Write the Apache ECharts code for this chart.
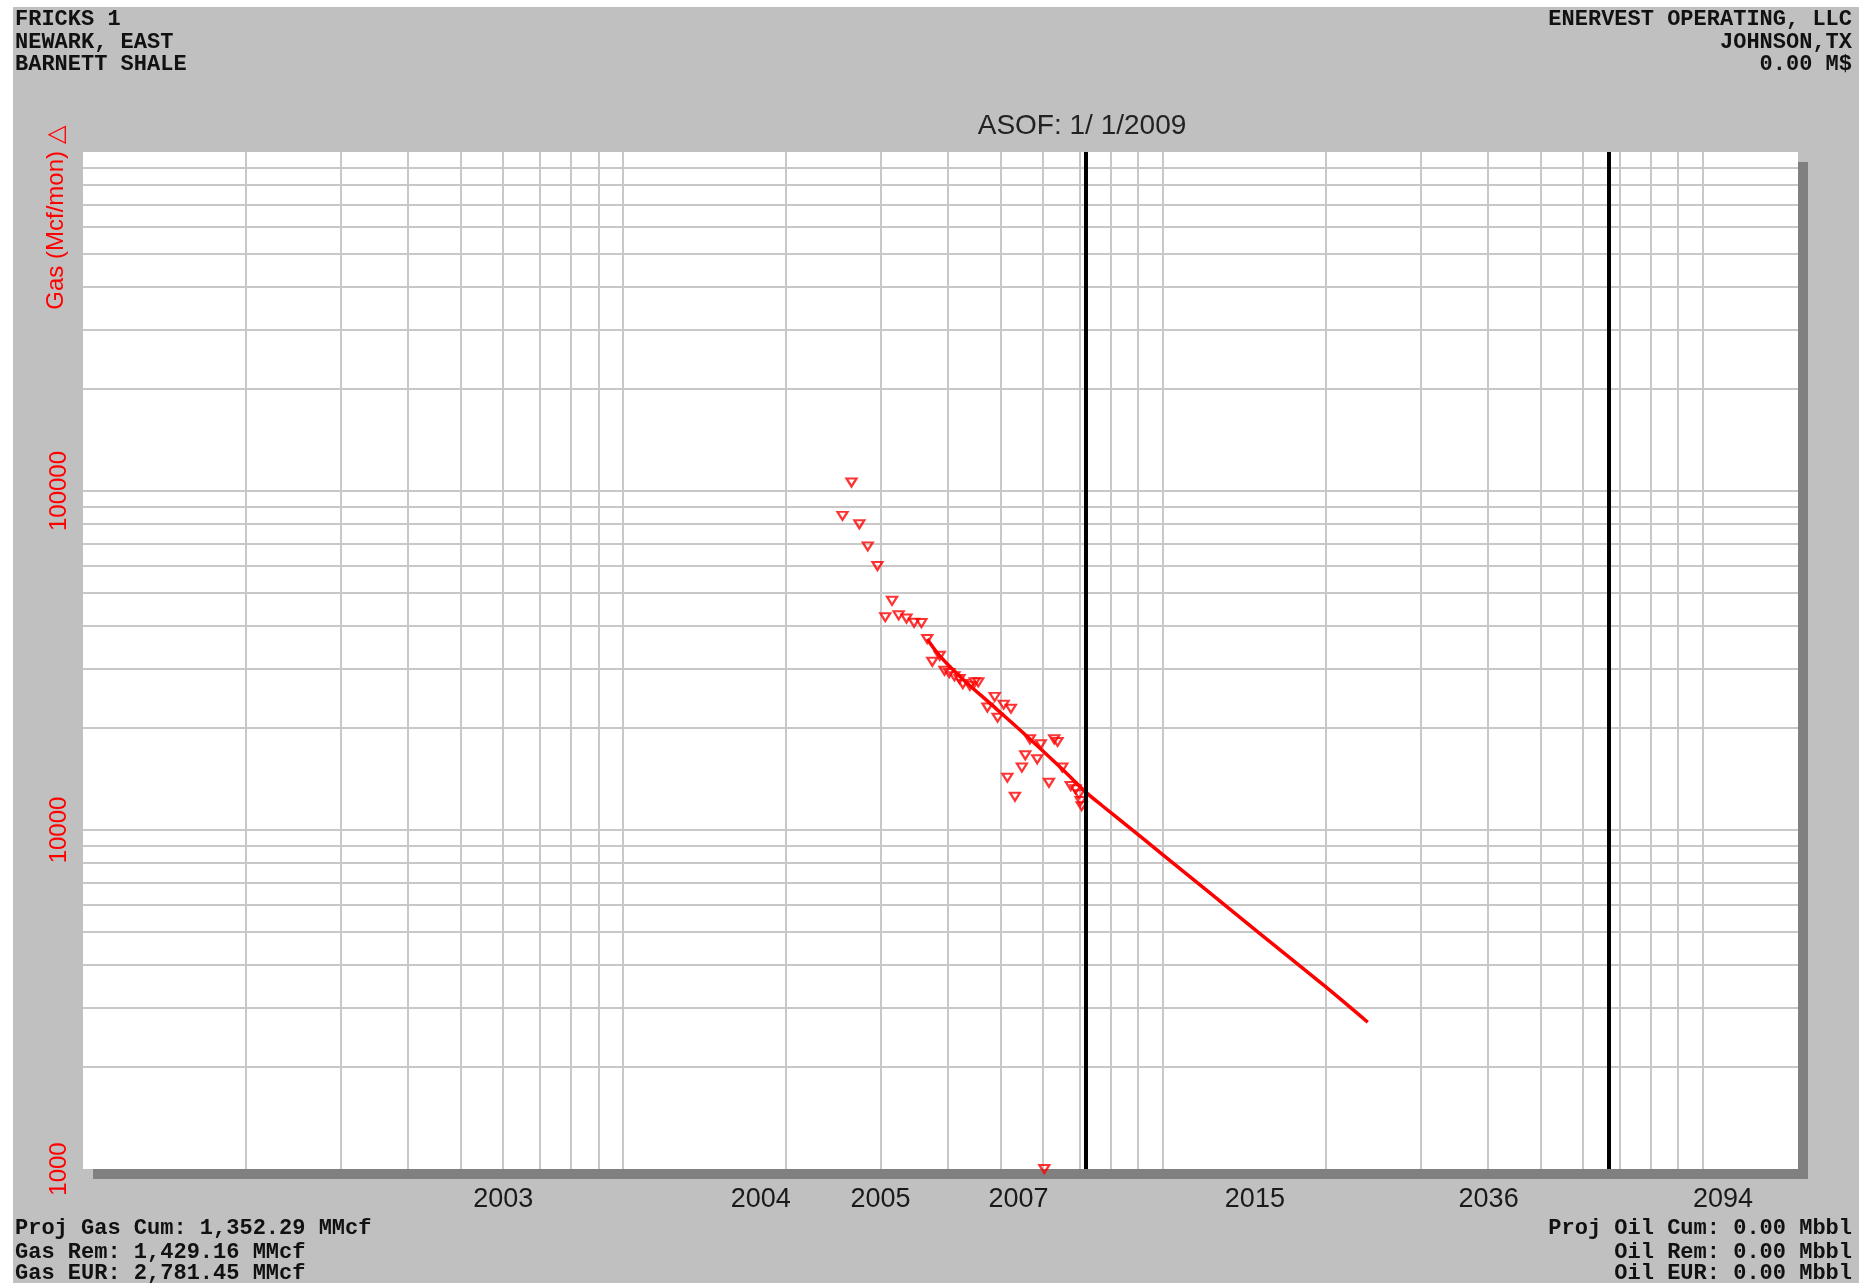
<!DOCTYPE html>
<html>
<head>
<meta charset="utf-8">
<title>FRICKS 1 - Gas</title>
<script src="https://cdn.jsdelivr.net/npm/echarts@6/dist/echarts.min.js"></script>
<style>
html,body{margin:0;padding:0;background:#ffffff;}
#chart{position:absolute;left:13px;top:7px;width:1846px;height:1276px;}
</style>
</head>
<body>
<div id="chart"></div>
<script>
// monthly gas rates (months since 1/2003, Mcf/mon)
var gasMonths = [25.5, 26.5, 27.4, 28.4, 29.6, 30.6, 31.5, 32.4, 33.5, 34.6,
	35.7, 36.6, 37.4, 38.6, 39.4, 40.2, 41.1, 42.0, 42.6, 43.9,
	44.8, 45.5, 47.3, 48.8, 49.4, 50.7, 51.5, 52.3, 53.2, 54.8,
	55.6, 56.7, 58.5, 59.4, 61.5, 62.9, 63.8, 65.1, 67.5, 68.9,
	69.9, 70.4, 70.7, 60.3]
var gasRates = [84450, 105950, 79750, 68650, 60070, 42450, 47430, 42970, 42050, 40880,
	40770, 36610, 31360, 32670, 29500, 29040, 28400, 27880, 26950, 26640,
	27260, 27260, 22990, 24700, 21450, 23430, 14270, 22800, 12540, 15280,
	16610, 18530, 16170, 17910, 13790, 18530, 18190, 15280, 13480, 13180,
	12740, 12170, 11760, 1000]

// forecast curve
var fcstMonths = [36.6, 38.5, 42.5, 48.2, 55.6, 65, 71.7, 77.2, 86, 100, 150, 200, 239.5]
var fcstRates = [36600, 32800, 27950, 23400, 19100, 15150, 13000, 11790, 10270, 8450, 5000, 3450, 2710]

// vertical markers: ASOF 1/1/2009 and end of forecast
var markerMonths = [72, 668]

// axis ticks / labels
var xLabelMonths = [6, 18, 30, 54, 148, 401, 1089]
var xLabelYears = ["2003", "2004", "2005", "2007", "2015", "2036", "2094"]
var xGridMonths = [2, 3, 4, 5, 6, 7, 8, 9, 10, 20, 30, 40, 50, 60, 70, 80, 90,
	100, 200, 300, 400, 500, 600, 700, 800, 900, 1000]
var yLabelRates = [1000, 10000, 100000]
var yGridRates = [2000, 3000, 4000, 5000, 6000, 7000, 8000, 9000, 10000,
	20000, 30000, 40000, 50000, 60000, 70000, 80000, 90000, 100000,
	200000, 300000, 400000, 500000, 600000, 700000, 800000, 900000]

var headLeft = ["FRICKS 1", "NEWARK, EAST", "BARNETT SHALE"]
var headRight = ["ENERVEST OPERATING, LLC", "JOHNSON,TX", "0.00 M$"]
var footLeft = ["Proj Gas Cum: 1,352.29 MMcf", "Gas Rem: 1,429.16 MMcf", "Gas EUR: 2,781.45 MMcf"]
var footRight = ["Proj Oil Cum: 0.00 Mbbl", "Oil Rem: 0.00 Mbbl", "Oil EUR: 0.00 Mbbl"]

var gasData = gasMonths.map(function (m, i) { return [m, gasRates[i]] })
var fcstData = fcstMonths.map(function (m, i) { return [m, fcstRates[i]] })

var monoFont = 'bold 22px "Liberation Mono", "Courier New", monospace'
var texts = []
function addLines(lines, x, ys, align) {
	lines.forEach(function (t, i) {
		texts.push({
			type: 'text', x: x, y: ys[i], silent: true,
			style: { text: t, font: monoFont, fill: '#111', align: align, verticalAlign: 'middle' }
		})
	})
}
addLines(headLeft, 2, [12, 35, 57], 'left')
addLines(headRight, 1839, [12, 35, 57], 'right')
addLines(footLeft, 2, [1221, 1245, 1266], 'left')
addLines(footRight, 1839, [1221, 1245, 1266], 'right')
texts.push({
	type: 'text', x: 1069, y: 119, silent: true,
	style: { text: 'ASOF: 1/ 1/2009', font: '28px "Liberation Sans", Arial, sans-serif', fill: '#222', align: 'center', verticalAlign: 'middle' }
})
texts.push({
	type: 'text', x: 43, y: 211, rotation: Math.PI / 2, silent: true,
	style: { text: 'Gas (Mcf/mon) △', font: '24px "Liberation Sans", Arial, sans-serif', fill: '#ff0000', align: 'center', verticalAlign: 'middle' }
})

var chart = echarts.init(document.getElementById('chart'))
chart.setOption({
	animation: false,
	backgroundColor: '#c0c0c0',
	grid: {
		left: 70, top: 145, right: 61, bottom: 114,
		show: true, backgroundColor: '#ffffff', borderWidth: 0,
		shadowColor: '#808080', shadowBlur: 0, shadowOffsetX: 10, shadowOffsetY: 10
	},
	xAxis: {
		type: 'log', logBase: 10, min: 1, max: 1500,
		axisLine: { show: false },
		axisTick: { show: false, customValues: xGridMonths },
		splitLine: { show: true, lineStyle: { color: '#c8c8c8', width: 2 } },
		axisLabel: {
			customValues: xLabelMonths,
			color: '#1a1a1a', fontSize: 27, fontFamily: '"Liberation Sans", Arial, sans-serif',
			margin: 17,
			formatter: function (v) {
				var best = 0
				xLabelMonths.forEach(function (m, i) {
					if (Math.abs(m - v) < Math.abs(xLabelMonths[best] - v)) best = i
				})
				return xLabelYears[best]
			}
		}
	},
	yAxis: {
		type: 'log', logBase: 10, min: 1000, max: 1000000,
		axisLine: { show: false },
		axisTick: { show: false, customValues: yGridRates },
		splitLine: { show: true, lineStyle: { color: '#c8c8c8', width: 2 } },
		axisLabel: {
			customValues: yLabelRates, rotate: 90,
			color: '#ff0000', fontSize: 24, fontFamily: '"Liberation Sans", Arial, sans-serif',
			margin: 12,
			formatter: function (v) { return String(Math.round(v)) }
		}
	},
	graphic: texts,
	series: [
		{
			name: 'Gas', type: 'scatter', z: 3,
			symbol: 'triangle', symbolRotate: 180, symbolSize: [10, 8],
			itemStyle: { color: 'rgba(255,255,255,0)', borderColor: '#ff0000', borderWidth: 2.2 },
			data: gasData
		},
		{
			name: 'Forecast', type: 'line', z: 4,
			showSymbol: false, symbol: 'none', smooth: 0.3,
			lineStyle: { color: '#ff0000', width: 3.5 },
			data: fcstData,
			markLine: {
				silent: true, symbol: ['none', 'none'],
				label: { show: false },
				lineStyle: { color: '#000000', width: 4, type: 'solid' },
				data: markerMonths.map(function (m) { return { xAxis: m } })
			}
		}
	]
})
</script>
</body>
</html>
